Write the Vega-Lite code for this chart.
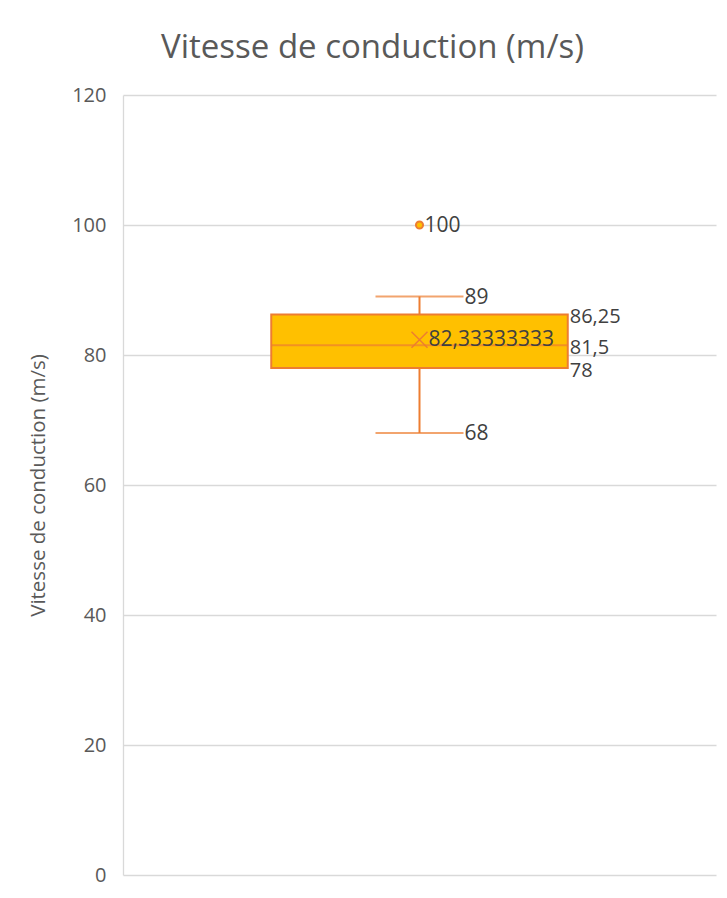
{
  "$schema": "https://vega.github.io/schema/vega-lite/v6.json",
  "width": 593,
  "height": 780,
  "autosize": {"type": "none"},
  "padding": {"left": 123, "top": 95, "right": 11, "bottom": 23},
  "background": "white",
  "config": {
    "font": "Open Sans",
    "view": {"stroke": null},
    "locale": {"number": {"decimal": ",", "thousands": " ", "grouping": [3], "currency": ["", " €"]}}
  },
  "title": {
    "text": "Vitesse de conduction (m/s)",
    "fontSize": 33,
    "fontWeight": "normal",
    "color": "#595959",
    "anchor": "middle",
    "dx": -47,
    "offset": 20
  },
  "datasets": {
    "stats": [{"serie": "Série1", "min": 68, "q1": 78, "median": 81.5, "q3": 86.25, "max": 89, "mean": 82.33333333}],
    "outliers": [{"serie": "Série1", "value": 100}]
  },
  "encoding": {
    "x": {"field": "serie", "type": "nominal", "axis": null, "scale": {"paddingInner": 0, "paddingOuter": 0.5}}
  },
  "layer": [
    {
      "data": {"name": "stats"},
      "mark": {"type": "rule", "color": "#ED7D31", "strokeWidth": 2},
      "encoding": {
        "y": {"field": "min", "type": "quantitative", "scale": {"domain": [0, 120]},
          "axis": {"values": [0, 20, 40, 60, 80, 100, 120], "ticks": false, "domainColor": "#d9d9d9", "domainWidth": 1.3,
            "gridColor": "#d9d9d9", "gridWidth": 1.3, "labelFontSize": 20, "labelColor": "#595959", "labelPadding": 17,
            "title": "Vitesse de conduction (m/s)", "titleFontSize": 20.5, "titleFontWeight": "normal", "titleColor": "#595959",
            "titleX": -85, "titleBaseline": "middle"}},
        "y2": {"field": "q1"}
      }
    },
    {
      "data": {"name": "stats"},
      "mark": {"type": "rule", "color": "#ED7D31", "strokeWidth": 2},
      "encoding": {
        "y": {"field": "q3", "type": "quantitative"},
        "y2": {"field": "max"}
      }
    },
    {
      "data": {"name": "stats"},
      "mark": {"type": "bar", "color": "#FFC000", "stroke": "#ED7D31", "strokeWidth": 2},
      "encoding": {
        "y": {"field": "q1", "type": "quantitative"},
        "y2": {"field": "q3"}
      }
    },
    {
      "data": {"name": "stats"},
      "mark": {"type": "tick", "color": "#ED7D31", "thickness": 2, "size": 296, "orient": "horizontal"},
      "encoding": {
        "y": {"field": "median", "type": "quantitative"}
      }
    },
    {
      "data": {"name": "stats"},
      "transform": [{"fold": ["min", "max"], "as": ["stat", "v"]}],
      "mark": {"type": "tick", "color": "#ED7D31", "thickness": 2, "size": 88, "orient": "horizontal"},
      "encoding": {
        "y": {"field": "v", "type": "quantitative"}
      }
    },
    {
      "data": {"name": "stats"},
      "mark": {"type": "point", "shape": "M-1,-1L1,1M1,-1L-1,1", "filled": false, "stroke": "#ED7D31", "strokeWidth": 1.5, "size": 256, "opacity": 1},
      "encoding": {
        "y": {"field": "mean", "type": "quantitative"}
      }
    },
    {
      "data": {"name": "outliers"},
      "mark": {"type": "point", "shape": "circle", "filled": true, "fill": "#FFC000", "stroke": "#ED7D31", "strokeWidth": 2, "size": 50, "opacity": 1},
      "encoding": {
        "y": {"field": "value", "type": "quantitative"}
      }
    },
    {
      "data": {"name": "outliers"},
      "mark": {"type": "text", "align": "left", "baseline": "middle", "dx": 5, "dy": 1, "fontSize": 21, "color": "#404040"},
      "encoding": {
        "y": {"field": "value", "type": "quantitative"},
        "text": {"field": "value", "type": "quantitative", "format": ".10~g"}
      }
    },
    {
      "data": {"name": "stats"},
      "transform": [{"fold": ["min", "max"], "as": ["stat", "v"]}],
      "mark": {"type": "text", "align": "left", "baseline": "middle", "dx": 45, "dy": 1, "fontSize": 21, "color": "#404040"},
      "encoding": {
        "y": {"field": "v", "type": "quantitative"},
        "text": {"field": "v", "type": "quantitative", "format": ".10~g"}
      }
    },
    {
      "data": {"name": "stats"},
      "transform": [{"fold": ["q1", "median", "q3"], "as": ["stat", "v"]}],
      "mark": {"type": "text", "align": "left", "baseline": "middle", "dx": 2, "dy": 3, "fontSize": 20, "color": "#404040"},
      "encoding": {
        "x": {"field": "serie", "type": "nominal", "bandPosition": 1},
        "y": {"field": "v", "type": "quantitative"},
        "text": {"field": "v", "type": "quantitative", "format": ".10~g"}
      }
    },
    {
      "data": {"name": "stats"},
      "mark": {"type": "text", "align": "left", "baseline": "middle", "dx": 9, "fontSize": 21, "color": "#404040"},
      "encoding": {
        "y": {"field": "mean", "type": "quantitative"},
        "text": {"field": "mean", "type": "quantitative", "format": ".10~g"}
      }
    }
  ]
}
